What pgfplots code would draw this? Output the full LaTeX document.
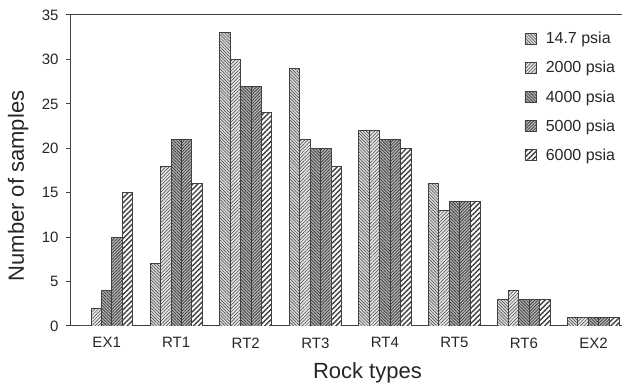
\documentclass[border=0pt]{standalone}
\usepackage{fontspec}
\setmainfont{Liberation Sans}
\usepackage{pgfplots}
\pgfplotsset{compat=1.18}
\usetikzlibrary{patterns.meta}

\definecolor{edge}{HTML}{404040}

% hatched bar styles: a grey base fill with a line pattern drawn over it
\tikzset{
  hatch/.style n args={4}{fill=#1, postaction={pattern={Lines[angle=#2,distance=#3,line width=#4]}, pattern color=black!75}},
}

\begin{document}
\begin{tikzpicture}
\begin{axis}[
  scale only axis,
  width=551pt, height=311pt,
  ybar=0pt, bar width=0.15,
  xmin=-0.513, xmax=7.41,
  ymin=0, ymax=35,
  ytick={0,5,...,35},
  xtick={0,...,7},
  xticklabels={EX1,RT1,RT2,RT3,RT4,RT5,RT6,EX2},
  axis x line*=bottom, axis y line*=left,
  axis line style={edge, line width=1pt, -},
  tick align=outside,
  major tick length=5pt,
  ytick style={edge, line width=1pt},
  xtick style={draw=none},
  /pgf/number format/assume math mode=true,
  tick label style={font=\fontsize{15}{17}\selectfont, text=black!85},
  yticklabel style={xshift=-4pt},
  xticklabel style={yshift=-3pt},
  label style={font=\fontsize{22}{25}\selectfont, text=black!85},
  xlabel={Rock types},
  ylabel={Number of samples},
  xlabel style={at={(ticklabel cs:0.538)}},
  ylabel style={at={(ticklabel cs:0.45)}},
  xlabel shift=7.5pt,
  ylabel shift=6.5pt,
  legend style={draw=none, fill=none, at={(0.997,0.958)}, anchor=north east,
    font=\fontsize{16}{18}\selectfont, text=black!85, row sep=12pt,
    /tikz/every odd column/.append style={column sep=7pt}},
  legend cell align=left,
  legend image code/.code={\draw[#1, line width=0.6pt] (0pt,-5.5pt) rectangle (11.5pt,5.5pt);},
  every axis plot/.append style={draw=edge, line width=0.8pt},
]
\addplot[hatch={gray!30}{-45}{2.2pt}{0.5pt}] coordinates
  {(0,0) (1,7) (2,33) (3,29) (4,22) (5,16) (6,3) (7,1)};
\addplot[hatch={gray!20}{45}{2.4pt}{0.5pt}] coordinates
  {(0,2) (1,18) (2,30) (3,21) (4,22) (5,13) (6,4) (7,1)};
\addplot[hatch={gray!60}{-45}{2.2pt}{0.8pt}] coordinates
  {(0,4) (1,21) (2,27) (3,20) (4,21) (5,14) (6,3) (7,1)};
\addplot[hatch={gray!55}{45}{2.2pt}{0.8pt}] coordinates
  {(0,10) (1,21) (2,27) (3,20) (4,21) (5,14) (6,3) (7,1)};
\addplot[hatch={white}{45}{3.6pt}{1.4pt}] coordinates
  {(0,15) (1,16) (2,24) (3,18) (4,20) (5,14) (6,3) (7,1)};
\legend{14.7 psia,2000 psia,4000 psia,5000 psia,6000 psia}
% frame line along the top of the plot area
\draw[edge, line width=1pt] (rel axis cs:0,1) -- (rel axis cs:1,1);
\coordinate (pl) at (rel axis cs:0,0);
\coordinate (pr) at (rel axis cs:1,1);
\end{axis}
% page margins around the plot area
\pgfresetboundingbox
\path ([xshift=-71pt,yshift=-61pt]pl) rectangle ([xshift=3pt,yshift=15pt]pr);
\end{tikzpicture}
\end{document}
